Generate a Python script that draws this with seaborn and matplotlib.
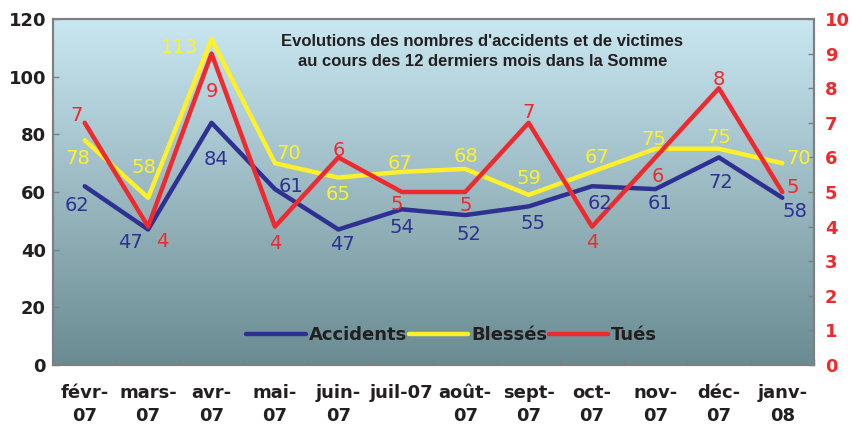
import numpy as np
import pandas as pd
import matplotlib
matplotlib.use("Agg")
import matplotlib.pyplot as plt
from matplotlib.colors import LinearSegmentedColormap
import seaborn as sns

# ===============================
# données
# ===============================
mois = ["févr-07", "mars-07", "avr-07", "mai-07", "juin-07", "juil-07",
        "août-07", "sept-07", "oct-07", "nov-07", "déc-07", "janv-08"]
etiquettes = ["févr-\n07", "mars-\n07", "avr-\n07", "mai-\n07", "juin-\n07", "juil-07",
              "août-\n07", "sept-\n07", "oct-\n07", "nov-\n07", "déc-\n07", "janv-\n08"]
accidents = [62, 47, 84, 61, 47, 54, 52, 55, 62, 61, 72, 58]
blesses = [78, 58, 113, 70, 65, 67, 68, 59, 67, 75, 75, 70]
tues = [7, 4, 9, 4, 6, 5, 5, 7, 4, 6, 8, 5]

df = pd.DataFrame({"mois": mois, "Accidents": accidents, "Blessés": blesses, "Tués": tues})

# couleurs
c_acc = "#2e3192"
c_ble = "#fff02a"
c_tue = "#ee2a2e"
c_txt = "#231f20"

# décalages des étiquettes (pixels, y vers le bas)
off_acc = [(-8, 19), (-18, 13), (4, 37), (16, -3), (4, 15), (0, 18),
           (4, 19), (4, 17), (8, 17), (5, 14), (2, 25), (13, 14)]
off_ble = [(-7, 18), (-4, -30), (-32, 8), (14, -10), (0, 17), (-2, -8),
           (1, -12), (0, -16), (5, -14), (-2, -9), (0, -11), (16, -5)]
off_tue = [(-8, -7), (14, 15), (0, 38), (0, 17), (0, -7), (-5, 12),
           (1, 13), (0, -10), (0, 16), (2, 19), (0, -9), (10, -5)]

sns.set_theme(style="white")
plt.rcParams["font.family"] = ["DejaVu Sans"]

fig = plt.figure(figsize=(8.52, 4.26), dpi=100)
ax = fig.add_axes([53 / 852, 1 - 365 / 426, 761 / 852, 346 / 426])

# fond dégradé
grad = LinearSegmentedColormap.from_list("fond", ["#6b8b92", "#c9e7f1"])
ax.imshow(np.linspace(0, 1, 256).reshape(-1, 1), cmap=grad, origin="lower",
          extent=[0, 1, 0, 1], transform=ax.transAxes, aspect="auto", zorder=0)

sns.lineplot(data=df, x="mois", y="Accidents", ax=ax, color=c_acc, lw=3.2,
             label="Accidents", legend=False, sort=False, zorder=3)
sns.lineplot(data=df, x="mois", y="Blessés", ax=ax, color=c_ble, lw=3.2,
             label="Blessés", legend=False, sort=False, zorder=3)

ax2 = ax.twinx()
sns.lineplot(data=df, x="mois", y="Tués", ax=ax2, color=c_tue, lw=3.2,
             label="Tués", legend=False, sort=False, zorder=3)

ax.set_xlim(-0.5, 11.5)
ax.set_ylim(0, 120)
ax2.set_ylim(0, 10)
ax.set_yticks(range(0, 121, 20))
ax2.set_yticks(range(0, 11))
ax.set_xlabel("")
ax.set_ylabel("")
ax2.set_ylabel("")

ax.set_xticks(range(len(mois)))
ax.set_xticklabels(etiquettes, fontsize=13, fontweight="bold", color=c_txt, linespacing=1.35)
ax.set_xticks(np.arange(-0.5, 12, 1), minor=True)
ax.tick_params(axis="x", which="major", length=0, pad=14)
ax.tick_params(axis="x", which="minor", direction="in", length=4, color="#808080", width=1, bottom=True)
ax.tick_params(axis="y", direction="in", length=4, color="#808080", width=1, left=True,
               labelsize=13, labelcolor=c_txt, pad=5)
for lab in ax.get_yticklabels():
    lab.set_fontweight("bold")
ax2.tick_params(axis="y", direction="in", length=4, color="#808080", width=1, right=True,
                labelsize=13, labelcolor=c_tue, pad=8)
for lab in ax2.get_yticklabels():
    lab.set_fontweight("bold")

for a in (ax, ax2):
    for s in a.spines.values():
        s.set_color("#7f7f7f")
        s.set_linewidth(1.5)

# étiquettes de données
px = 0.72
for i, v in enumerate(accidents):
    dx, dy = off_acc[i]
    ax2.annotate(str(v), (i, v), xycoords=ax.transData, xytext=(dx * px, -dy * px),
                 textcoords="offset points", ha="center", va="center",
                 fontsize=14, color=c_acc, zorder=5)
for i, v in enumerate(blesses):
    dx, dy = off_ble[i]
    ax2.annotate(str(v), (i, v), xycoords=ax.transData, xytext=(dx * px, -dy * px),
                 textcoords="offset points", ha="center", va="center",
                 fontsize=14, color=c_ble, zorder=5)
for i, v in enumerate(tues):
    dx, dy = off_tue[i]
    ax2.annotate(str(v), (i, v), xytext=(dx * px, -dy * px),
                 textcoords="offset points", ha="center", va="center",
                 fontsize=14, color=c_tue, zorder=5)

# titre
ax2.text(0.564, 0.906,
         "Evolutions des nombres d'accidents et de victimes\nau cours des 12 dermiers mois dans la Somme",
         transform=ax.transAxes, ha="center", va="center", multialignment="center",
         fontsize=12, fontweight="bold", family="Liberation Sans", color=c_txt,
         linespacing=1.35, zorder=6)

# légende
h1, l1 = ax.get_legend_handles_labels()
h2, l2 = ax2.get_legend_handles_labels()
leg = ax2.legend(h1 + h2, l1 + l2, loc="center", bbox_to_anchor=(0.524, 0.087),
                 ncol=3, frameon=False, handlelength=3.3, handletextpad=0.15,
                 columnspacing=0.1, prop={"size": 13, "weight": "bold"})
for t in leg.get_texts():
    t.set_color(c_txt)

fig.savefig("out.png", dpi=100)
